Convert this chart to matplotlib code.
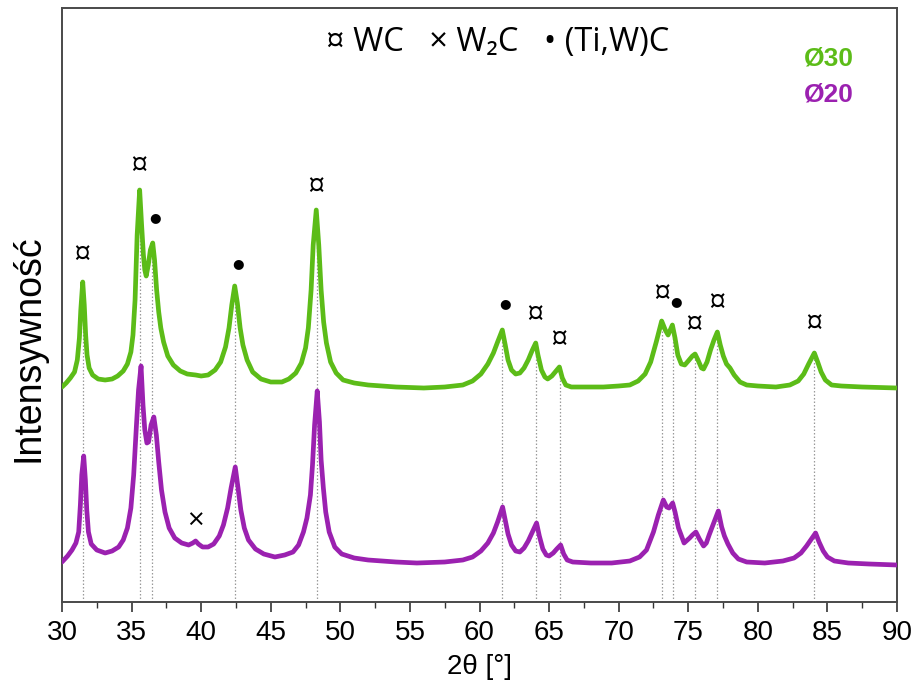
import numpy as np
import matplotlib
matplotlib.use("Agg")
import matplotlib.pyplot as plt

# ---- diffraction patterns (2θ in degrees, intensity in a.u.) ----
two_theta_30 = [30.0, 30.3, 30.6, 30.9, 31.1, 31.25, 31.35, 31.49, 31.6, 31.7, 31.8, 31.95,
                32.2, 32.6, 33.1, 33.6, 34.0, 34.4, 34.7, 34.95, 35.1, 35.25, 35.4, 35.58,
                35.72, 35.85, 35.95, 36.05, 36.2, 36.35, 36.52, 36.65, 36.8, 36.95, 37.1,
                37.3, 37.6, 38.0, 38.5, 39.0, 39.6, 40.0, 40.5, 41.0, 41.4, 41.75, 42.0,
                42.2, 42.41, 42.6, 42.8, 43.0, 43.3, 43.7, 44.3, 45.0, 45.8, 46.3, 46.8,
                47.2, 47.5, 47.7, 47.9, 48.05, 48.27, 48.45, 48.62, 48.8, 49.0, 49.3,
                49.7, 50.2, 51.0, 52.0, 54.0, 56.0, 57.5, 58.8, 59.5, 60.1, 60.6, 61.0,
                61.3, 61.64, 61.85, 62.05, 62.3, 62.6, 62.9, 63.2, 63.5, 63.8, 64.04,
                64.2, 64.45, 64.7, 64.9, 65.2, 65.5, 65.74, 65.95, 66.2, 66.6, 67.5,
                68.9, 70.0, 70.8, 71.4, 71.9, 72.3, 72.7, 73.09, 73.35, 73.55, 73.86,
                74.05, 74.25, 74.5, 74.75, 75.0, 75.3, 75.49, 75.7, 75.95, 76.1, 76.35,
                76.6, 76.85, 77.09, 77.3, 77.52, 77.75, 78.0, 78.3, 78.72, 79.2, 80.0,
                81.3, 82.3, 82.9, 83.3, 83.65, 84.06, 84.3, 84.55, 84.85, 85.3, 86.0,
                87.5, 90.0]
intensity_30 = [213, 217, 222, 228, 240, 262, 290, 318, 295, 265, 245, 232,
                225, 221, 220, 221, 224, 229, 236, 248, 265, 300, 365, 410,
                375, 345, 330, 324, 335, 350, 357, 340, 310, 288, 272,
                258, 244, 235, 229, 226, 225, 224, 225, 230, 238, 253, 272,
                295, 314, 297, 272, 255, 240, 228, 221, 218, 218, 221, 227,
                237, 252, 272, 310, 355, 390, 355, 310, 278, 257, 238,
                227, 220, 217, 215, 213, 212, 213, 215, 219, 226, 236, 247,
                258, 270, 255, 240, 230, 226, 227, 232, 240, 250, 257,
                245, 230, 223, 221, 224, 229, 233, 222, 215, 213, 213,
                213, 214, 215, 219, 226, 238, 258, 279, 270, 265, 275,
                262, 245, 236, 235, 239, 244, 246, 240, 232, 231, 238,
                250, 260, 268, 255, 244, 236, 232, 225, 218, 215, 214,
                213, 215, 219, 226, 236, 247, 238, 228, 220, 215, 214,
                213, 212]

two_theta_20 = [30.0, 30.4, 30.72, 31.0, 31.2, 31.32, 31.42, 31.56, 31.68, 31.78, 31.9,
                32.1, 32.5, 33.1, 33.6, 34.07, 34.4, 34.7, 34.95, 35.15, 35.35, 35.5,
                35.68, 35.82, 35.95, 36.1, 36.22, 36.4, 36.6, 36.78, 36.95, 37.15, 37.4,
                37.7, 38.1, 38.6, 39.1, 39.4, 39.6, 39.8, 40.1, 40.5, 40.9, 41.3, 41.6,
                41.9, 42.15, 42.45, 42.65, 42.85, 43.1, 43.4, 43.9, 44.5, 45.3, 46.0,
                46.6, 47.0, 47.35, 47.6, 47.85, 48.0, 48.15, 48.34, 48.5, 48.62, 48.78,
                48.95, 49.2, 49.6, 50.1, 51.0, 52.0, 54.0, 55.5, 57.5, 58.8, 59.5, 60.1,
                60.6, 61.0, 61.3, 61.66, 61.85, 62.05, 62.3, 62.6, 62.9, 63.2, 63.5,
                63.8, 64.1, 64.3, 64.55, 64.8, 65.0, 65.3, 65.55, 65.83, 66.05, 66.3,
                66.7, 68.0, 69.5, 70.8, 71.5, 72.0, 72.5, 72.85, 73.21, 73.45, 73.62,
                73.88, 74.05, 74.3, 74.7, 75.1, 75.3, 75.55, 75.8, 76.1, 76.3, 76.5,
                76.8, 77.16, 77.4, 77.6, 77.85, 78.2, 78.6, 79.2, 80.5, 81.8, 82.6,
                83.1, 83.5, 83.85, 84.15, 84.4, 84.7, 85.0, 85.5, 86.5, 88.0, 90.0]
intensity_20 = [38, 44, 50, 57, 68, 95, 125, 144, 120, 90, 68,
                56, 50, 47, 49, 53, 60, 72, 92, 125, 175, 210,
                234, 195, 170, 157, 158, 175, 183, 165, 138, 110, 88,
                72, 62, 57, 55, 57, 59, 56, 53, 53, 56, 64, 75,
                92, 112, 133, 112, 90, 72, 60, 51, 46, 43, 45,
                48, 55, 68, 82, 105, 135, 175, 209, 178, 140, 112,
                88, 68, 53, 46, 42, 40, 38, 37, 38, 40, 43, 49,
                57, 67, 78, 93, 80, 66, 55, 49, 48, 52, 59,
                68, 77, 64, 51, 45, 44, 47, 51, 55, 46, 40,
                38, 37, 37, 39, 43, 50, 68, 85, 100, 93, 92,
                97, 88, 72, 57, 62, 65, 68, 61, 54, 57, 65,
                76, 89, 73, 64, 56, 47, 41, 38, 37, 39, 42,
                47, 54, 61, 67, 58, 49, 43, 39, 37, 36, 35]

# ---- phase identification ----
wc_peaks = [31.5, 35.6, 48.3, 64.06, 65.78, 73.14, 75.48, 77.09, 84.06]
tiwc_peaks = [36.5, 42.45, 61.64, 73.9]
w2c_peaks = [39.6]

sample_labels = ["Ø30", "Ø20"]
xticks = [30, 35, 40, 45, 50, 55, 60, 65, 70, 75, 80, 85, 90]

GREEN = "#5cbc18"
PURPLE = "#9b21b0"

plt.rcParams["font.family"] = ["Liberation Sans", "DejaVu Sans"]

fig = plt.figure(figsize=(9.19, 6.91), dpi=100)
ax = fig.add_axes([62 / 919, 1 - 602 / 691, 835 / 919, 594 / 691])

# reference lines under the peaks
ref_peaks = sorted(wc_peaks + tiwc_peaks)
ref_tops = np.interp(ref_peaks, two_theta_30, intensity_30)
ax.vlines(ref_peaks, -2, ref_tops, colors="#9a9a9a", linestyles=(0, (1.2, 1.6)),
          linewidth=0.9, zorder=1)

ax.plot(two_theta_20, intensity_20, color=PURPLE, lw=3.4, solid_joinstyle="round",
        solid_capstyle="round", zorder=3)
ax.plot(two_theta_30, intensity_30, color=GREEN, lw=3.4, solid_joinstyle="round",
        solid_capstyle="round", zorder=3)

# phase markers above the peaks
mark_font = ["Open Sans", "DejaVu Sans"]
for p in wc_peaks:
    y = np.interp(p, two_theta_30, intensity_30)
    ax.annotate("¤", (p, y), xytext=(-0.5, 21), textcoords="offset points",
                ha="center", va="center", fontsize=22, family=mark_font)
for p in tiwc_peaks:
    y = np.interp(p, two_theta_30, intensity_30)
    ax.annotate("●", (p, y), xytext=(2, 19), textcoords="offset points",
                ha="center", va="center", fontsize=9.5, family=["DejaVu Sans"])
for p in w2c_peaks:
    y = np.interp(p, two_theta_20, intensity_20)
    ax.annotate("×", (p, y), xytext=(0, 14), textcoords="offset points",
                ha="center", va="center", fontsize=21, family=mark_font)

# phase key
fig.text(498 / 919, 1 - 42 / 691, "¤ WC   × W₂C   • (Ti,W)C", ha="center", va="center",
         fontsize=23.5, family=mark_font)

# sample key
fig.text(829 / 919, 1 - 59 / 691, sample_labels[0], color=GREEN, fontsize=19,
         fontweight="bold", ha="center", va="center")
fig.text(829 / 919, 1 - 95 / 691, sample_labels[1], color=PURPLE, fontsize=19,
         fontweight="bold", ha="center", va="center")

ax.set_xlim(30, 90)
ax.set_ylim(-2, 592)
ax.set_xticks(xticks)
ax.set_xticks(np.arange(32.5, 90, 5), minor=True)
ax.set_yticks([])
ax.tick_params(axis="x", which="major", length=7, width=1.2, labelsize=20, pad=6, colors="#333333")
ax.tick_params(axis="x", which="minor", length=4, width=1.0, colors="#333333")
ax.tick_params(axis="x", labelcolor="black")
for s in ax.spines.values():
    s.set_color("#4a4a4a")
    s.set_linewidth(1.4)

ax.set_xlabel("2θ [°]", fontsize=20, labelpad=6)
ax.set_ylabel("Intensywność", fontsize=27)
ax.yaxis.set_label_coords(-0.018, 0.428)

fig.savefig("out.png", dpi=100)
